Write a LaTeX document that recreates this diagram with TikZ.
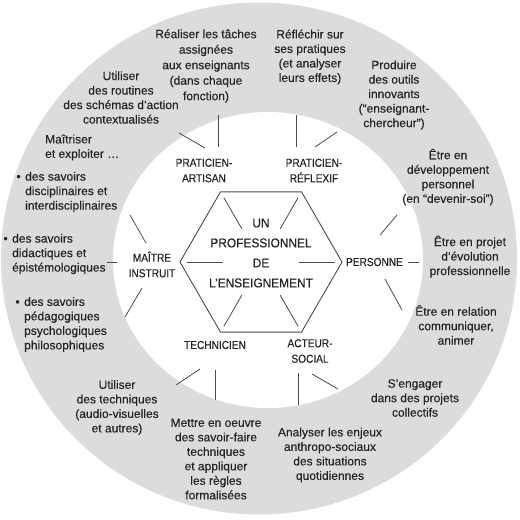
\documentclass[tikz,border=0pt]{standalone}
\usepackage{fontspec}
\setmainfont[FakeBold=0.3]{Liberation Sans}
\newfontfamily\labfont[FakeStretch=0.88,FakeBold=0.3]{Liberation Sans}
\newfontfamily\ctrfont[FakeStretch=0.93,FakeBold=0.3]{Liberation Sans}
\usetikzlibrary{shapes.geometric,calc}
\definecolor{ringgray}{RGB}{220,220,220}
\definecolor{ink}{RGB}{35,35,35}
\definecolor{linec}{RGB}{75,75,75}
\begin{document}
\begin{tikzpicture}[x=1pt,y=-1pt,
  outer/.style={align=center,font=\fontsize{12}{14.5}\selectfont,text=ink,inner sep=0pt},
  outerl/.style={outer,align=left,anchor=west},
  role/.style={align=center,font=\labfont\fontsize{11.5}{15.5}\selectfont,text=ink,inner sep=0pt},
  spoke/.style={draw=linec,line width=0.8pt},
  hexa/.style={regular polygon,regular polygon sides=6,minimum size=162pt,draw=linec,line width=0.9pt,inner sep=0pt}]
\useasboundingbox (0,0) rectangle (520,520);
% rings
\fill[ringgray] (259,258.5) ellipse [x radius=258, y radius=256];
\fill[white] (268,260) ellipse [x radius=155, y radius=148];
% hexagon
\node[hexa] (hex) at (261,262) {};
\node[align=center,font=\ctrfont\fontsize{12.8}{20}\selectfont,text=ink,inner sep=0pt] (ctr) at (261,253)
  {UN\\PROFESSIONNEL\\DE\\L’ENSEIGNEMENT};
\foreach \i in {1,...,6}
  \draw[spoke] ($(hex.center)!0.47!(hex.corner \i)$) -- ($(hex.center)!0.91!(hex.corner \i)$);
% roles
\node[role] (pa) at (204,170.5) {PRATICIEN-\\ARTISAN};
\node[role] (pr) at (314,170.5) {PRATICIEN-\\RÉFLEXIF};
\node[role] (mi) at (152,264.5) {MAÎTRE\\INSTRUIT};
\node[role] (pe) at (374.5,262) {PERSONNE};
\node[role] (te) at (215,345) {TECHNICIEN};
\node[role] (as) at (310,351) {ACTEUR-\\SOCIAL};
% outer spokes
\foreach \n/\xa/\ya/\xb/\yb in {
  pa1/218/147/218/115, pa2/205/148/179/133,
  pr1/296/147/296/115, pr2/315/147/337/132,
  pe1/380/235/397/215, pe2/408/262/419/262, pe3/385/279/402/310,
  mi1/146/243/130/215, mi2/117/262/107/262, mi3/142/288/125/317,
  te1/200/369/176/385, te2/215/370/215/400,
  as1/298/373/298/405, as2/312/374/338/389}{
  \coordinate (\n-s) at (\xa,\ya);
  \coordinate (\n-e) at (\xb,\yb);
  \draw[spoke] (\n-s) -- (\n-e);
}
% outer texts
\node[outer,font=\fontsize{12}{15.5}\selectfont] (o1) at (206,66) {Réaliser les tâches\\assignées\\aux enseignants\\(dans chaque\\fonction)};
\node[outer] (o2) at (121,97.5) {Utiliser\\des routines\\des schémas d’action\\contextualisés};
\node[outerl] (o3) at (45,147.5) {Maîtriser\\et exploiter …};
\node[outerl] (o4) at (25,192) {\llap{•\hspace{4.5pt}}des savoirs\\disciplinaires et\\interdisciplinaires};
\node[outerl] (o5) at (12,254) {\llap{•\hspace{4.5pt}}des savoirs\\didactiques et\\épistémologiques};
\node[outerl] (o6) at (24,324.5) {\llap{•\hspace{4.5pt}}des savoirs\\pédagogiques\\psychologiques\\philosophiques};
\node[outer] (o7) at (117,407.5) {Utiliser\\des techniques\\(audio-visuelles\\et autres)};
\node[outer] (o8) at (216,459) {Mettre en oeuvre\\des savoir-faire\\techniques\\et appliquer\\les règles\\formalisées};
\node[outer] (o9) at (330,455) {Analyser les enjeux\\anthropo-sociaux\\des situations\\quotidiennes};
\node[outer] (o10) at (415,398) {S’engager\\dans des projets\\collectifs};
\node[outer] (o11) at (456,325) {Être en relation\\communiquer,\\animer};
\node[outer] (o12) at (470,256.5) {Être en projet\\d’évolution\\professionnelle};
\node[outer] (o13) at (448,177) {Être en\\développement\\personnel\\(en “devenir-soi”)};
\node[outer] (o14) at (394,95) {Produire\\des outils\\innovants\\(“enseignant-\\chercheur”)};
\node[outer] (o15) at (310,57) {Réfléchir sur\\ses pratiques\\(et analyser\\leurs effets)};
\end{tikzpicture}
\end{document}
